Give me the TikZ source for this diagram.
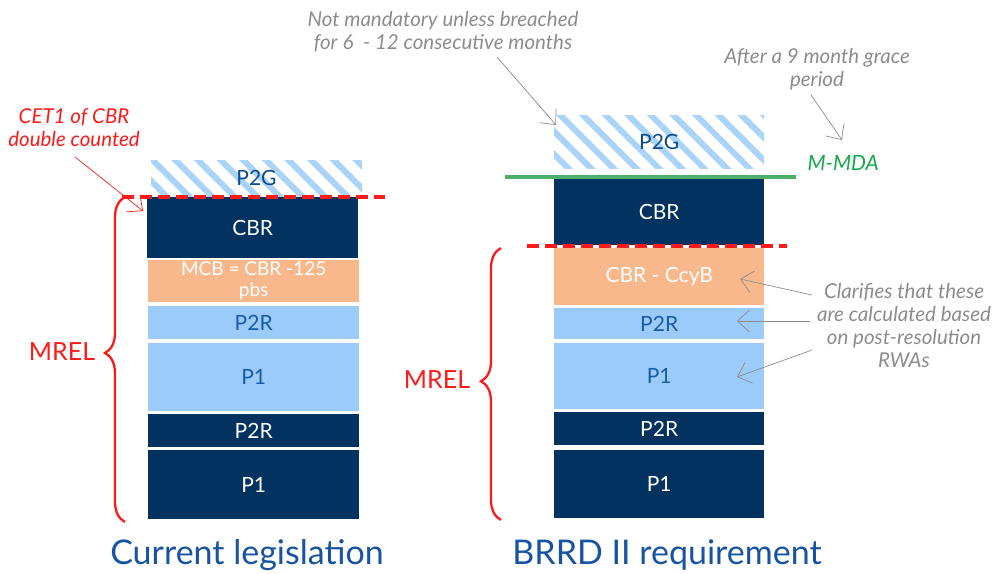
\documentclass[tikz,border=0pt]{standalone}
\usepackage{fontspec}
\setmainfont{Lato}
\usetikzlibrary{arrows.meta,patterns.meta,decorations.pathreplacing}

\definecolor{navy}{HTML}{02325F}
\definecolor{peach}{HTML}{F8B88B}
\definecolor{sky}{HTML}{9BCBFB}
\definecolor{skytext}{HTML}{1B5BA6}
\definecolor{stripe}{HTML}{AAD3F8}
\definecolor{hatchtext}{HTML}{0E4A8C}
\definecolor{mred}{HTML}{FF1A1A}
\definecolor{mgreen}{HTML}{4CAF6A}
\definecolor{mgreentext}{HTML}{14A84B}
\definecolor{note}{HTML}{8C8C8C}
\definecolor{titleblue}{HTML}{1853A3}

\tikzset{
  layer/.style={rectangle, inner sep=0pt, anchor=north west,
    font=\fontsize{21}{24}\selectfont},
  darkbox/.style={layer, fill=navy, text=white},
  lightbox/.style={layer, fill=sky, text=skytext},
  peachbox/.style={layer, fill=peach, text=white},
  hatchbox/.style={layer, text=hatchtext,
    pattern={Lines[angle=-45, distance=16pt, line width=6pt]},
    pattern color=stripe},
  notetext/.style={align=center, text=note,
    font=\fontsize{20.5}{23}\selectfont\itshape},
  notearrow/.style={draw=note, line width=0.7pt,
    -{Straight Barb[length=12pt, width=22pt, line width=0.7pt]}},
  cutline/.style={draw=mred, line width=3.5pt, dash pattern=on 12pt off 6pt},
  mrelbrace/.style={draw=mred, line width=2.3pt,
    decorate, decoration={brace, amplitude=20pt}},
  mreltext/.style={text=mred, font=\fontsize{25}{28}\selectfont},
  coltitle/.style={text=titleblue, font=\fontsize{34}{38}\selectfont},
}

\begin{document}
\begin{tikzpicture}[x=1pt, y=-1pt]
\useasboundingbox (0,0) rectangle (992,573);

% ---- current legislation stack ----
\node[hatchbox, minimum width=211pt, minimum height=36pt] (lp2g) at (148,157) {P2G};
\node[darkbox, minimum width=211pt, minimum height=61pt] (lcbr) at (147,197) {CBR};
\node[peachbox, minimum width=211pt, minimum height=42pt, align=center,
      font=\fontsize{19}{21}\selectfont] (lmcb) at (148,260) {MCB = CBR -125\\pbs};
\node[lightbox, minimum width=211pt, minimum height=33pt] (lp2r) at (148,306) {P2R};
\node[lightbox, minimum width=211pt, minimum height=68pt] (lp1) at (148,343) {P1};
\node[darkbox, minimum width=211pt, minimum height=33pt] (lp2rd) at (148,414) {P2R};
\node[darkbox, minimum width=211pt, minimum height=69pt] (lp1d) at (148,450) {P1};

% ---- BRRD II stack ----
\node[hatchbox, minimum width=210pt, minimum height=53pt] (rp2g) at (554,115) {P2G};
\node[darkbox, minimum width=210pt, minimum height=66pt] (rcbr) at (554,179) {CBR};
\node[peachbox, minimum width=210pt, minimum height=57pt] (rccyb) at (554,248) {CBR - CcyB};
\node[lightbox, minimum width=210pt, minimum height=31pt] (rp2r) at (554,308) {P2R};
\node[lightbox, minimum width=210pt, minimum height=66pt] (rp1) at (554,343) {P1};
\node[darkbox, minimum width=210pt, minimum height=33pt] (rp2rd) at (554,412) {P2R};
\node[darkbox, minimum width=210pt, minimum height=68pt] (rp1d) at (554,450) {P1};

% ---- threshold lines ----
\coordinate (lcutA) at (122,197);
\coordinate (lcutB) at (385,197);
\draw[cutline] (lcutA) -- (lcutB);
\coordinate (rcutA) at (527,246);
\coordinate (rcutB) at (787,246);
\draw[cutline] (rcutA) -- (rcutB);
\coordinate (mdaA) at (505,177);
\coordinate (mdaB) at (796,177);
\draw[draw=mgreen, line width=4pt] (mdaA) -- (mdaB);
\node[text=mgreentext, font=\fontsize{21}{24}\selectfont\itshape, anchor=west] (mmda) at (804,163) {M-MDA};

% ---- MREL braces ----
\coordinate (lbrB) at (125,522);
\coordinate (lbrT) at (125,197);
\draw[mrelbrace, decoration={aspect=0.52}] (lbrB) -- (lbrT);
\node[mreltext] (lmrel) at (62,352) {MREL};
\coordinate (rbrB) at (501,520);
\coordinate (rbrT) at (501,248);
\draw[mrelbrace, decoration={aspect=0.51}] (rbrB) -- (rbrT);
\node[mreltext] (rmrel) at (437,380) {MREL};

% ---- column titles ----
\node[coltitle] (ltitle) at (247,555) {Current legislation};
\node[coltitle] (rtitle) at (667,555) {BRRD II requirement};

% ---- annotations ----
\node[notetext, text=mred] (cet) at (74,128) {CET1 of CBR\\double counted};
\coordinate (cetS) at (75,157);
\coordinate (cetE) at (143,211);
\draw[notearrow, draw=mred] (cetS) -- (cetE);

\node[notetext] (notmand) at (443,32) {Not mandatory unless breached\\for 6 \ - 12 consecutive months};
\coordinate (notmandS) at (497,57);
\coordinate (notmandE) at (556,125);
\draw[notearrow] (notmandS) -- (notmandE);

\node[notetext] (grace) at (817,69) {After a 9 month grace\\period};
\coordinate (graceS) at (811,95);
\coordinate (graceE) at (842,140);
\draw[notearrow] (graceS) -- (graceE);

\node[notetext, align=center] (clar) at (904,326) {Clarifies that these\\are calculated based\\on post-resolution\\RWAs};
\coordinate (clarS1) at (812,295);
\coordinate (clarE1) at (740,279);
\coordinate (clarS2) at (810,321);
\coordinate (clarE2) at (737,321);
\coordinate (clarS3) at (812,350);
\coordinate (clarE3) at (737,377);
\draw[notearrow] (clarS1) -- (clarE1);
\draw[notearrow] (clarS2) -- (clarE2);
\draw[notearrow] (clarS3) -- (clarE3);
\end{tikzpicture}
\end{document}
